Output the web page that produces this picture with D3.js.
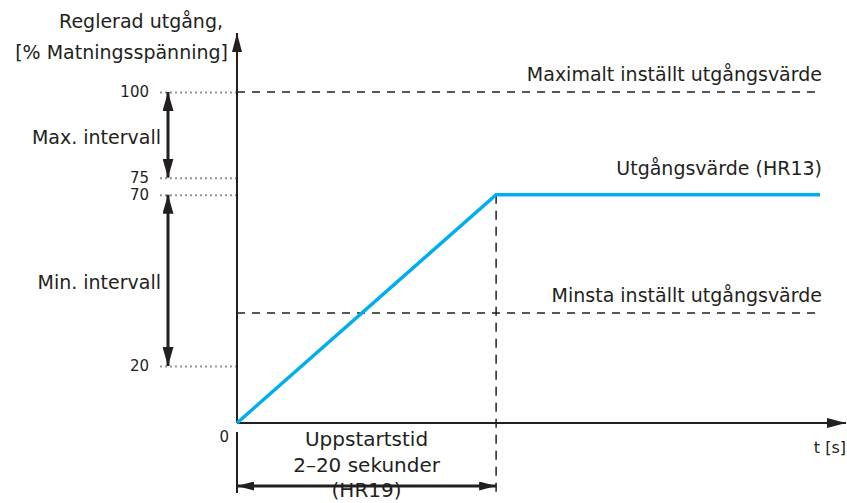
<!DOCTYPE html>
<html>
<head>
<meta charset="utf-8">
<script src="https://cdn.jsdelivr.net/npm/d3@7"></script>
<style>
  body { margin: 0; background: #fff; }
  text { font-family: "DejaVu Sans", Verdana, sans-serif; fill: #231f20; }
</style>
</head>
<body>
<svg id="chart" width="847" height="503"></svg>
<script>
// values
var yTickValues = [20, 70, 75, 100];
var outputSeries = [ {t: 0, v: 0}, {t: 20, v: 70}, {t: 45, v: 70} ];
var levelLines = [
    {name: "Maximalt inställt utgångsvärde", v: 100},
    {name: "Minsta inställt utgångsvärde", v: 35.5}
];
var intervals = [
    {name: "Max. intervall", from: 75, to: 100},
    {name: "Min. intervall", from: 20, to: 70}
];
var startup = {from: 0, to: 20};
var startupLabels = ["Uppstartstid", "2–20 sekunder", "(HR19)"];
var yTitle = ["Reglerad utgång,", "[% Matningsspänning]"];
var xTitle = "t [s]";
var outputLabel = "Utgångsvärde (HR13)";

var svg = d3.select("#chart");
var ink = "#231f20";
var blue = "#00aeef";

// schematic: 0..20 compressed below the first tick
var y = d3.scaleLinear().domain([0, 20, 100]).range([423, 366, 92]);
var x = d3.scaleLinear().domain([0, 45]).range([237, 820]);

function AddMarker(id, len, wid) {
    svg.append("defs").append("marker")
        .attr("id", id)
        .attr("markerUnits", "userSpaceOnUse")
        .attr("viewBox", "0 0 " + len + " " + wid)
        .attr("refX", len).attr("refY", wid / 2)
        .attr("markerWidth", len).attr("markerHeight", wid)
        .attr("orient", "auto-start-reverse")
        .append("path")
        .attr("d", "M0,0L" + len + "," + (wid / 2) + "L0," + wid + "Z")
        .attr("fill", ink);
}
AddMarker("axisHead", 19, 10);
AddMarker("bigHead", 19, 11);
AddMarker("smallHead", 17, 9);

// y axis ticks as dotted leaders
var yAxis = d3.axisLeft(y).tickValues(yTickValues).tickSize(80).tickPadding(8);
var gy = svg.append("g").attr("transform", "translate(" + x(0) + ",0)").call(yAxis);
gy.select(".domain").remove();
gy.selectAll(".tick line")
    .attr("stroke", "#939598").attr("stroke-width", 2)
    .attr("stroke-dasharray", "2,3");
gy.selectAll(".tick text")
    .attr("font-size", 15).attr("fill", ink)
    .style("font-family", "DejaVu Sans, Verdana, sans-serif");

svg.append("text").attr("x", x(0) - 8).attr("y", 437)
    .attr("text-anchor", "end").attr("dominant-baseline", "central")
    .attr("font-size", 15).text("0");

// level lines (dashed)
levelLines.forEach(function(d) {
    svg.append("line")
        .attr("x1", x(0)).attr("x2", x(45))
        .attr("y1", y(d.v)).attr("y2", y(d.v))
        .attr("stroke", ink).attr("stroke-width", 1.5)
        .attr("stroke-dasharray", "8,7");
    svg.append("text").attr("x", x(45) + 2).attr("y", y(d.v) - 18)
        .attr("text-anchor", "end").attr("dominant-baseline", "central")
        .attr("font-size", 19).text(d.name);
});

// startup time vertical dashed
svg.append("line")
    .attr("x1", x(startup.to)).attr("x2", x(startup.to))
    .attr("y1", y(70)).attr("y2", 493)
    .attr("stroke", ink).attr("stroke-width", 1.5)
    .attr("stroke-dasharray", "9,7");

// axes
svg.append("line")
    .attr("x1", x(0)).attr("x2", x(0)).attr("y1", y(0)).attr("y2", 33)
    .attr("stroke", ink).attr("stroke-width", 2).attr("marker-end", "url(#axisHead)");
svg.append("line")
    .attr("x1", x(0)).attr("x2", 846).attr("y1", y(0)).attr("y2", y(0))
    .attr("stroke", ink).attr("stroke-width", 2).attr("marker-end", "url(#axisHead)");

// output value line
var line = d3.line().x(function(d) { return x(d.t); }).y(function(d) { return y(d.v); });
svg.append("path").datum(outputSeries)
    .attr("d", line).attr("fill", "none")
    .attr("stroke", blue).attr("stroke-width", 3.5);
svg.append("text").attr("x", x(45) + 2).attr("y", 168)
    .attr("text-anchor", "end").attr("dominant-baseline", "central")
    .attr("font-size", 19).text(outputLabel);

// interval arrows
intervals.forEach(function(d) {
    svg.append("line")
        .attr("x1", 168).attr("x2", 168)
        .attr("y1", y(d.from)).attr("y2", y(d.to))
        .attr("stroke", ink).attr("stroke-width", 3)
        .attr("marker-start", "url(#bigHead)").attr("marker-end", "url(#bigHead)");
    svg.append("text").attr("x", 161).attr("y", (y(d.from) + y(d.to)) / 2 + 2)
        .attr("text-anchor", "end").attr("dominant-baseline", "central")
        .attr("font-size", 19).text(d.name);
});

// startup bracket
svg.append("line")
    .attr("x1", x(startup.from)).attr("x2", x(startup.from))
    .attr("y1", 432).attr("y2", 493)
    .attr("stroke", ink).attr("stroke-width", 2);
startupLabels.forEach(function(s, i) {
    svg.append("text").attr("x", (x(startup.from) + x(startup.to)) / 2).attr("y", 439 + i * 25.5)
        .attr("text-anchor", "middle").attr("dominant-baseline", "central")
        .attr("font-size", 20).text(s);
});
svg.append("line")
    .attr("x1", x(startup.from)).attr("x2", x(startup.to))
    .attr("y1", 486).attr("y2", 486)
    .attr("stroke", ink).attr("stroke-width", 3)
    .attr("marker-start", "url(#smallHead)").attr("marker-end", "url(#smallHead)");

// titles
svg.append("text").attr("x", 846).attr("y", 447)
    .attr("text-anchor", "end").attr("dominant-baseline", "central")
    .attr("font-size", 16).text(xTitle);
yTitle.forEach(function(s, i) {
    svg.append("text").attr("x", i === 0 ? 223 : 228).attr("y", 21 + i * 31)
        .attr("text-anchor", "end").attr("dominant-baseline", "central")
        .attr("font-size", 19).text(s);
});
</script>
</body>
</html>
